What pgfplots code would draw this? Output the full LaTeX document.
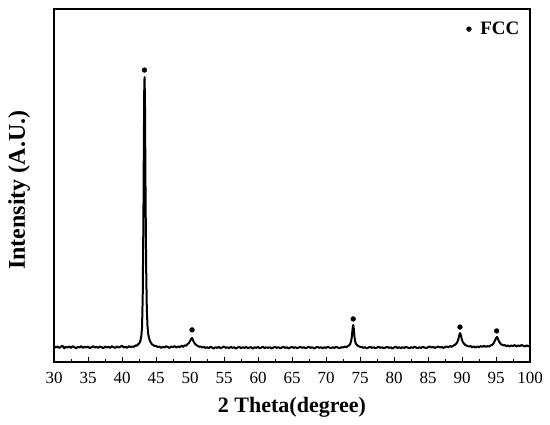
\documentclass[border=0pt]{standalone}
\usepackage{pgfplots}
\pgfplotsset{compat=1.18}
\usepackage{fontspec}
\setmainfont{Liberation Serif}
\begin{document}
\begin{tikzpicture}
\begin{axis}[
  scale only axis, width=476pt, height=353pt,
  xmin=30, xmax=100, ymin=0, ymax=1000,
  xtick={30,35,...,100}, minor x tick num=1,
  ytick=\empty,
  xtick pos=bottom,
  tick align=inside,
  major tick length=5pt, minor tick length=3pt,
  axis line style={line width=1.3pt},
  every tick/.style={line width=1pt, black},
  /pgf/number format/assume math mode=true,
  ticklabel style={font=\fontsize{17}{17}\selectfont},
  xticklabel style={yshift=-7pt},
  xlabel={\textbf{2 Theta(degree)}},
  ylabel={\textbf{Intensity (A.U.)}},
  xlabel style={font=\fontsize{22}{22}\selectfont, at={(axis description cs:0.5,-0.128)}, anchor=center},
  ylabel style={font=\fontsize{24}{24}\selectfont, at={(axis description cs:-0.073,0.487)}, anchor=center, rotate=0},
  legend style={at={(rel axis cs:0.86,0.943)}, anchor=west, draw=none, fill=none, font=\fontsize{19}{19}\selectfont\bfseries},
  legend cell align=left,
]
\addplot[black, line width=2pt, line join=round, forget plot] coordinates {
(30.00,45) (30.25,41) (30.50,44) (30.75,40) (31.00,43) (31.25,46) (31.50,39) (31.75,43) (32.00,41) (32.25,44)
(32.50,40) (32.75,45) (33.00,42) (33.25,39) (33.50,43) (33.75,41) (34.00,45) (34.25,40) (34.50,43) (34.75,41)
(35.00,44) (35.25,39) (35.50,42) (35.75,45) (36.00,41) (36.25,43) (36.50,40) (36.75,44) (37.00,42) (37.25,39)
(37.50,44) (37.75,41) (38.00,43) (38.25,40) (38.50,45) (38.75,42) (39.00,40) (39.25,44) (39.50,41) (39.75,43)
(40.00,46) (40.25,41) (40.50,43) (40.75,40) (41.00,45) (41.25,42) (41.50,44) (41.75,43)
(42.00,47) (42.2,46) (42.4,51) (42.55,53) (42.7,60) (42.85,74) (42.95,100) (43.05,190) (43.15,410) (43.22,640)
(43.28,790) (43.32,807) (43.38,730) (43.45,510) (43.55,270) (43.65,150) (43.75,102) (43.85,80) (43.95,70) (44.1,60)
(44.25,55) (44.4,50) (44.6,48) (44.8,45) (45.0,46) (45.25,42) (45.5,44) (45.75,40) (46.0,43) (46.25,41)
(46.5,45) (46.75,42) (47.0,40) (47.25,44) (47.5,42) (47.75,45) (48.0,41) (48.25,44) (48.5,42) (48.75,46)
(49.0,43) (49.2,47) (49.4,46) (49.6,50) (49.8,53) (49.95,57) (50.1,63) (50.2,66) (50.3,68) (50.4,64)
(50.5,59) (50.65,54) (50.8,50) (51.0,47) (51.2,45) (51.4,43) (51.6,44) (51.8,41)
(52.0,43) (52.25,40) (52.5,42) (52.75,39) (53.0,43) (53.25,41) (53.5,38) (53.75,42) (54.0,40) (54.25,43)
(54.5,39) (54.75,41) (55.0,44) (55.25,40) (55.5,42) (55.75,39) (56.0,43) (56.25,40) (56.5,42) (56.75,38)
(57.0,41) (57.25,43) (57.5,39) (57.75,42) (58.0,40) (58.25,43) (58.5,39) (58.75,41) (59.0,42) (59.25,38)
(59.5,42) (59.75,40) (60.0,43) (60.25,39) (60.5,41) (60.75,43) (61.0,39) (61.25,42) (61.5,40) (61.75,42)
(62.0,38) (62.25,41) (62.5,43) (62.75,40) (63.0,42) (63.25,39) (63.5,41) (63.75,43) (64.0,40) (64.25,42)
(64.5,38) (64.75,41) (65.0,43) (65.25,40) (65.5,42) (65.75,39) (66.0,41) (66.25,43) (66.5,40) (66.75,42)
(67.0,39) (67.25,41) (67.5,43) (67.75,40) (68.0,42) (68.25,38) (68.5,41) (68.75,43) (69.0,40) (69.25,42)
(69.5,39) (69.75,42) (70.0,40) (70.25,43) (70.5,41) (70.75,39) (71.0,42) (71.25,40) (71.5,43) (71.75,41)
(72.0,39) (72.25,42) (72.5,41) (72.75,44) (73.0,42) (73.2,45) (73.4,47) (73.55,51) (73.68,58) (73.8,72)
(73.9,92) (74.0,105) (74.08,95) (74.15,78) (74.25,62) (74.35,54) (74.5,49) (74.7,46) (74.9,44) (75.1,42)
(75.3,43) (75.5,40) (75.75,42) (76.0,39) (76.25,41) (76.5,43) (76.75,40) (77.0,42) (77.25,39) (77.5,41)
(77.75,43) (78.0,40) (78.25,42) (78.5,39) (78.75,41) (79.0,43) (79.25,40) (79.5,42) (79.75,38) (80.0,41)
(80.25,43) (80.5,40) (80.75,42) (81.0,39) (81.25,42) (81.5,40) (81.75,43) (82.0,41) (82.25,39) (82.5,42)
(82.75,40) (83.0,43) (83.25,41) (83.5,39) (83.75,42) (84.0,40) (84.25,43) (84.5,41) (84.75,39) (85.0,42)
(85.25,44) (85.5,41) (85.75,43) (86.0,40) (86.25,42) (86.5,44) (86.75,41) (87.0,43) (87.25,40) (87.5,42)
(87.75,44) (88.0,42) (88.25,45) (88.5,43) (88.7,46) (88.9,48) (89.1,51) (89.3,56) (89.45,64) (89.58,74)
(89.7,82) (89.82,77) (89.95,66) (90.1,57) (90.3,52) (90.5,48) (90.75,46) (91.0,44) (91.25,45) (91.5,42)
(91.75,44) (92.0,41) (92.25,44) (92.5,42) (92.75,45) (93.0,43) (93.25,46) (93.5,43) (93.75,45) (94.0,44)
(94.2,47) (94.4,48) (94.6,52) (94.75,57) (94.9,63) (95.05,69) (95.15,71) (95.28,66) (95.4,60) (95.55,55)
(95.7,51) (95.9,49) (96.1,47) (96.3,48) (96.5,45) (96.75,47) (97.0,44) (97.25,47) (97.5,45) (97.75,48)
(98.0,44) (98.25,47) (98.5,45) (98.75,48) (99.0,46) (99.25,44) (99.5,47) (99.75,45) (100.0,46)
};
\addplot[black, only marks, mark=*, mark size=2.4pt] coordinates {
(43.3,827) (50.3,91) (74.0,122) (89.7,99) (95.1,88)
};
\addlegendentry{\hspace{7pt}FCC}
\end{axis}
\pgfresetboundingbox
\path (current axis.south west)+(-54pt,-62pt) rectangle ([shift={(20pt,9pt)}]current axis.north east);
\end{tikzpicture}
\end{document}
